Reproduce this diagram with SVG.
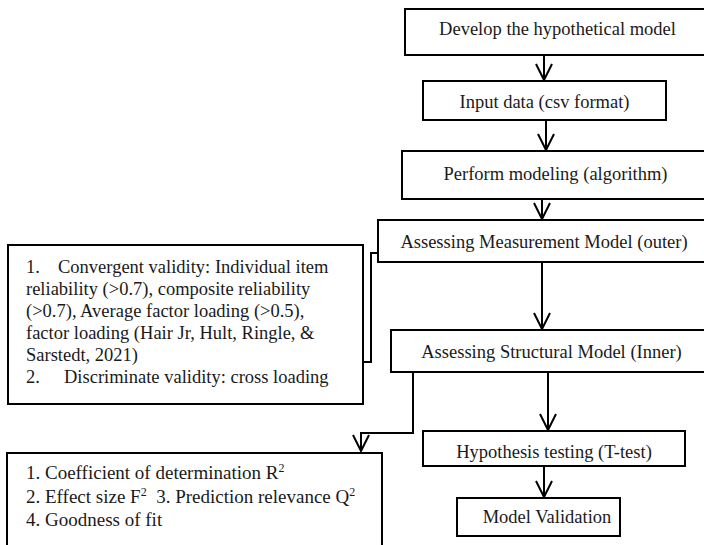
<svg xmlns="http://www.w3.org/2000/svg" width="704" height="545" viewBox="0 0 704 545">
<defs>
<style>
.box{fill:#fff;stroke:#000;stroke-width:2}
.t{font-family:'Liberation Serif','DejaVu Serif',serif;font-size:18.5px;fill:#1a1a1a}
.c{text-anchor:middle}
.ln{fill:none;stroke:#000;stroke-width:2}
.pre{white-space:pre}
</style>
<marker id="arr" markerUnits="userSpaceOnUse" markerWidth="22" markerHeight="22" viewBox="-19 -11 22 22" refX="0" refY="0" orient="auto">
<path d="M-16,-8 L0,0 L-16,8" fill="none" stroke="#000" stroke-width="2"/>
</marker>
</defs>
<rect width="704" height="545" fill="#fff"/>
<g id="connectors">
<path class="ln" d="M544,55 V80" marker-end="url(#arr)"/>
<path class="ln" d="M546,120 V150" marker-end="url(#arr)"/>
<path class="ln" d="M542,199 V219" marker-end="url(#arr)"/>
<path class="ln" d="M542,262 V329" marker-end="url(#arr)"/>
<path class="ln" d="M378,253 H371 V362 H363"/>
<path class="ln" d="M548,372 V430" marker-end="url(#arr)"/>
<path class="ln" d="M413,372 V433 H361 V451" marker-end="url(#arr)"/>
<path class="ln" d="M544,466 V497" marker-end="url(#arr)"/>
</g>
<g id="n1">
<rect class="box" x="405" y="9" width="305" height="46"/>
<text class="t c" x="557.5" y="35" font-family="Liberation Serif, serif">Develop the hypothetical model</text>
</g>
<g id="n2">
<rect class="box" x="423" y="81" width="243" height="39"/>
<text class="t c" x="544.5" y="108">Input data (csv format)</text>
</g>
<g id="n3">
<rect class="box" x="402" y="151" width="308" height="48"/>
<text class="t c" x="555.5" y="180">Perform modeling (algorithm)</text>
</g>
<g id="n4">
<rect class="box" x="378" y="220" width="332" height="42"/>
<text class="t c" x="544" y="248">Assessing Measurement Model (outer)</text>
</g>
<g id="n5">
<rect class="box" x="391" y="330" width="321" height="42"/>
<text class="t c" x="551.5" y="358">Assessing Structural Model (Inner)</text>
</g>
<g id="n6">
<rect class="box" x="423" y="431" width="262" height="35"/>
<text class="t c" x="554" y="458">Hypothesis testing (T-test)</text>
</g>
<g id="n7">
<rect class="box" x="457" y="498" width="163" height="38"/>
<text class="t c" x="547" y="523">Model Validation</text>
</g>
<g id="n8">
<rect class="box" x="8" y="245" width="355" height="159"/>
<text class="t" x="26" y="273">1.<tspan x="58">Convergent validity: Individual item</tspan></text>
<text class="t" x="26" y="295">reliability (&gt;0.7), composite reliability</text>
<text class="t" x="26" y="317">(&gt;0.7), Average factor loading (&gt;0.5),</text>
<text class="t" x="26" y="339">factor loading (Hair Jr, Hult, Ringle, &amp;</text>
<text class="t" x="26" y="361">Sarstedt, 2021)</text>
<text class="t" x="26" y="383">2.<tspan x="64">Discriminate validity: cross loading</tspan></text>
</g>
<g id="n9">
<rect class="box" x="7" y="453" width="375" height="110"/>
<text class="t" x="26" y="479" style="font-size:19px">1. Coefficient of determination R<tspan baseline-shift="super" font-size="12">2</tspan></text>
<text class="t pre" x="26" y="502.5" style="font-size:19px">2. Effect size F<tspan baseline-shift="super" font-size="12">2</tspan>  3. Prediction relevance Q<tspan baseline-shift="super" font-size="12">2</tspan></text>
<text class="t" x="26" y="526" style="font-size:19px">4. Goodness of fit</text>
</g>
</svg>
